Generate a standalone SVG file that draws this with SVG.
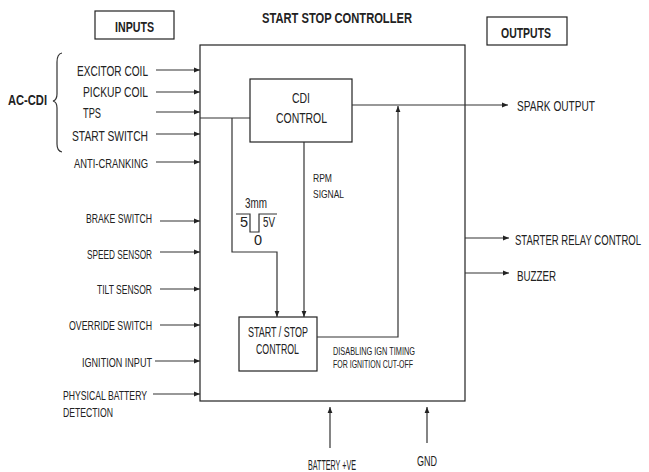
<svg xmlns="http://www.w3.org/2000/svg" width="649" height="472" viewBox="0 0 649 472">
<defs>
<marker id="ah" viewBox="0 0 10 10" refX="10" refY="5" markerWidth="6" markerHeight="6" markerUnits="userSpaceOnUse" orient="auto">
<path d="M0,1 L10,5 L0,9 z" fill="#222"/>
</marker>
</defs>
<style>
.t{font-family:"Liberation Sans",Arial,sans-serif;fill:#222;font-size:14.5px}
.s{font-size:13px}
.xs{font-size:11px}
.b{font-weight:bold}
.box{fill:#fff;stroke:#222;stroke-width:1.2}
.ln{fill:none;stroke:#333;stroke-width:1.2}
.ar{fill:none;stroke:#333;stroke-width:1.2;marker-end:url(#ah)}
</style>
<rect width="649" height="472" fill="#fff"/>

<g id="title"><text class="t b" x="262" y="23" font-size="16" textLength="150" lengthAdjust="spacingAndGlyphs">START STOP CONTROLLER</text></g>
<g id="inputs-label"><rect class="box" x="95" y="11" width="79" height="28"/><text class="t b" x="115" y="32" font-size="15" textLength="39" lengthAdjust="spacingAndGlyphs">INPUTS</text></g>
<g id="outputs-label"><rect class="box" x="487" y="17" width="80" height="28"/><text class="t b" x="501" y="38" font-size="15" textLength="50" lengthAdjust="spacingAndGlyphs">OUTPUTS</text></g>

<g id="controller"><rect class="box" x="200" y="45" width="265" height="356"/></g>

<g id="cdi"><rect class="box" x="250" y="79" width="102" height="63"/>
<text class="t" x="292" y="103" font-size="17" textLength="18" lengthAdjust="spacingAndGlyphs">CDI</text>
<text class="t" x="276" y="123" font-size="17" textLength="51" lengthAdjust="spacingAndGlyphs">CONTROL</text></g>

<g id="ssc"><rect class="box" x="239" y="317" width="78" height="54"/>
<text class="t" x="248" y="337" font-size="14" textLength="60" lengthAdjust="spacingAndGlyphs">START / STOP</text>
<text class="t" x="256" y="354" font-size="14" textLength="43" lengthAdjust="spacingAndGlyphs">CONTROL</text></g>

<g id="ac-cdi">
<text class="t b" x="8" y="105" font-size="14" textLength="39" lengthAdjust="spacingAndGlyphs">AC-CDI</text>
<path class="ln" d="M62,53 Q57,54 57,62 L57,94 Q57,100 53,101 Q57,102 57,108 L57,144 Q57,151 62,152"/>
</g>

<g id="input-labels">
<text class="t" x="77" y="76" textLength="71" lengthAdjust="spacingAndGlyphs">EXCITOR COIL</text>
<text class="t" x="83" y="97" textLength="65" lengthAdjust="spacingAndGlyphs">PICKUP COIL</text>
<text class="t" x="83" y="118" textLength="18" lengthAdjust="spacingAndGlyphs">TPS</text>
<text class="t" x="72" y="141" textLength="76" lengthAdjust="spacingAndGlyphs">START SWITCH</text>
<text class="t s" x="74" y="168" textLength="74" lengthAdjust="spacingAndGlyphs">ANTI-CRANKING</text>
<text class="t s" x="86" y="223" textLength="66" lengthAdjust="spacingAndGlyphs">BRAKE SWITCH</text>
<text class="t s" x="87" y="259" textLength="65" lengthAdjust="spacingAndGlyphs">SPEED SENSOR</text>
<text class="t s" x="97" y="294" textLength="55" lengthAdjust="spacingAndGlyphs">TILT SENSOR</text>
<text class="t s" x="69" y="330" textLength="83" lengthAdjust="spacingAndGlyphs">OVERRIDE SWITCH</text>
<text class="t s" x="82" y="367" textLength="70" lengthAdjust="spacingAndGlyphs">IGNITION INPUT</text>
<text class="t s" x="63" y="400" textLength="84" lengthAdjust="spacingAndGlyphs">PHYSICAL BATTERY</text>
<text class="t s" x="63" y="417" textLength="50" lengthAdjust="spacingAndGlyphs">DETECTION</text>
</g>

<g id="output-labels">
<text class="t" x="517" y="111" font-size="16" textLength="78" lengthAdjust="spacingAndGlyphs">SPARK OUTPUT</text>
<text class="t" x="0" y="0" font-size="15" transform="translate(515,245) scale(0.627,1)" textLength="201" lengthAdjust="spacingAndGlyphs">STARTER RELAY CONTROL</text>
<text class="t" x="517" y="281" font-size="16" textLength="39" lengthAdjust="spacingAndGlyphs">BUZZER</text>
<text class="t" x="308" y="470" font-size="15" textLength="48" lengthAdjust="spacingAndGlyphs">BATTERY +VE</text>
<text class="t" x="417" y="466" font-size="15" textLength="20" lengthAdjust="spacingAndGlyphs">GND</text>
</g>

<g id="inner-labels">
<text class="t xs" x="313" y="182" textLength="19" lengthAdjust="spacingAndGlyphs">RPM</text>
<text class="t xs" x="313" y="198" textLength="31" lengthAdjust="spacingAndGlyphs">SIGNAL</text>
<text class="t" x="245" y="208" font-size="12" textLength="22" lengthAdjust="spacingAndGlyphs">3mm</text>
<text class="t" x="244" y="227" font-size="12.5" text-anchor="middle">5</text>
<text class="t" x="263" y="227" font-size="12.5" textLength="12" lengthAdjust="spacingAndGlyphs">5V</text>
<text class="t" x="258" y="245" font-size="12" text-anchor="middle">0</text>
<text class="t xs" x="333" y="355" textLength="82" lengthAdjust="spacingAndGlyphs">DISABLING IGN TIMING</text>
<text class="t xs" x="333" y="368" textLength="80" lengthAdjust="spacingAndGlyphs">FOR IGNITION CUT-OFF</text>
</g>

<g id="connectors">
<line class="ar" x1="156" y1="70" x2="200" y2="70"/>
<line class="ar" x1="156" y1="92" x2="200" y2="92"/>
<line class="ar" x1="156" y1="112" x2="200" y2="112"/>
<line class="ar" x1="156" y1="134" x2="200" y2="134"/>
<line class="ar" x1="156" y1="162" x2="200" y2="162"/>
<line class="ar" x1="160" y1="221" x2="200" y2="221"/>
<line class="ar" x1="160" y1="252" x2="200" y2="252"/>
<line class="ar" x1="160" y1="289" x2="200" y2="289"/>
<line class="ar" x1="160" y1="325" x2="200" y2="325"/>
<line class="ar" x1="155" y1="361" x2="200" y2="361"/>
<line class="ar" x1="153" y1="394" x2="200" y2="394"/>
<line class="ln" x1="200" y1="118" x2="250" y2="118"/>
<polyline class="ar" points="232,118 232,252 277,252 277,317"/>
<line class="ar" x1="304" y1="142" x2="304" y2="317"/>
<path class="ln" d="M236,214 H250 V232 H259 V214 H277"/>
<polyline class="ar" points="317,337 398,337 398,106"/>
<line class="ar" x1="352" y1="105" x2="508" y2="105"/>
<line class="ar" x1="465" y1="238" x2="509" y2="238"/>
<line class="ar" x1="465" y1="273" x2="509" y2="273"/>
<line class="ar" x1="330" y1="448" x2="330" y2="407"/>
<line class="ar" x1="427" y1="443" x2="427" y2="407"/>
</g>
</svg>
